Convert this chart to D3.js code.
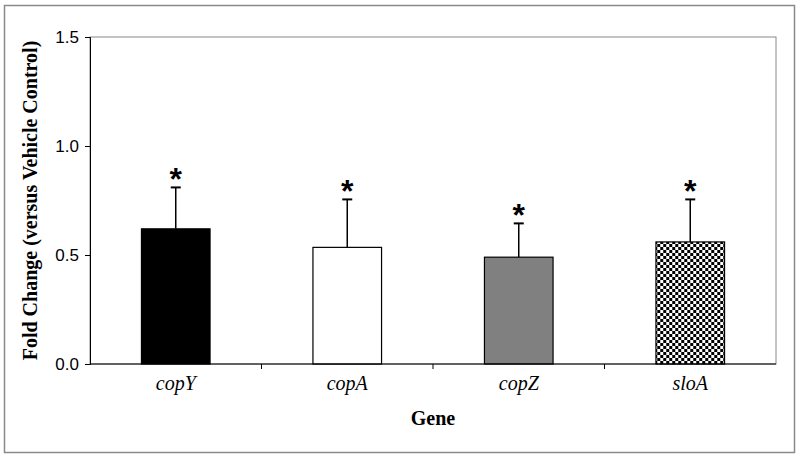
<!DOCTYPE html>
<html>
<head>
<meta charset="utf-8">
<script src="https://cdn.jsdelivr.net/npm/d3@7"></script>
<style>
  body { margin: 0; background: #fff; }
</style>
</head>
<body>
<div id="chart"></div>
<script>
// gene expression fold change bars

let genes = ["copY", "copA", "copZ", "sloA"];
let foldChange = [0.62, 0.535, 0.49, 0.56];
let errorTop = [0.81, 0.755, 0.645, 0.755];
let yTicks = [0.0, 0.5, 1.0, 1.5];

let W = 800, H = 458;
let margin = {top: 37, right: 24, bottom: 94, left: 90};
let w = W - margin.left - margin.right;
let h = H - margin.top - margin.bottom;

let serif = "'Liberation Serif', 'Times New Roman', serif";
let sans = "'Liberation Sans', Arial, sans-serif";

let svg = d3.select("#chart").append("svg")
  .attr("width", W)
  .attr("height", H);

// checker fill for the last bar
let defs = svg.append("defs");
let pat = defs.append("pattern")
  .attr("id", "checker")
  .attr("patternUnits", "userSpaceOnUse")
  .attr("width", 6)
  .attr("height", 6);
pat.append("rect").attr("width", 6).attr("height", 6).attr("fill", "#fff");
pat.append("rect").attr("width", 3).attr("height", 3).attr("fill", "#000");
pat.append("rect").attr("x", 3).attr("y", 3).attr("width", 3).attr("height", 3).attr("fill", "#000");

// outer frame
svg.append("rect")
  .attr("x", 4.5).attr("y", 5.5)
  .attr("width", 790).attr("height", 447)
  .attr("fill", "none")
  .attr("stroke", "#8a8a8a")
  .attr("stroke-width", 1.5);

let g = svg.append("g")
  .attr("transform", "translate(" + margin.left + "," + margin.top + ")");

let x = d3.scaleBand().domain(genes).range([0, w]);
let y = d3.scaleLinear().domain([0, 1.5]).range([h, 0]);

// plot box
g.append("rect")
  .attr("width", w).attr("height", h)
  .attr("fill", "none")
  .attr("stroke", "#888")
  .attr("stroke-width", 1);

let fills = ["#000", "#fff", "#808080", "url(#checker)"];
let barW = x.bandwidth() * 0.4;

let bars = g.selectAll("g.bar")
  .data(genes)
  .enter()
  .append("g")
  .attr("transform", function(d) { return "translate(" + (x(d) + x.bandwidth() / 2) + ",0)"; });

// error bars first so the bar edge sits over the line
bars.append("line")
  .attr("x1", 0).attr("x2", 0)
  .attr("y1", function(d, i) { return y(foldChange[i]); })
  .attr("y2", function(d, i) { return y(errorTop[i]); })
  .attr("stroke", "#000").attr("stroke-width", 1.5);
bars.append("line")
  .attr("x1", -5).attr("x2", 5)
  .attr("y1", function(d, i) { return y(errorTop[i]); })
  .attr("y2", function(d, i) { return y(errorTop[i]); })
  .attr("stroke", "#000").attr("stroke-width", 2);

// significance marks
bars.append("text")
  .attr("y", function(d, i) { return y(errorTop[i]) + 3; })
  .attr("text-anchor", "middle")
  .style("font-family", sans)
  .style("font-weight", "bold")
  .style("font-size", "32px")
  .text("*");

bars.append("rect")
  .attr("x", -barW / 2)
  .attr("width", barW)
  .attr("y", function(d, i) { return y(foldChange[i]); })
  .attr("height", function(d, i) { return h - y(foldChange[i]); })
  .attr("fill", function(d, i) { return fills[i]; })
  .attr("stroke", "#000")
  .attr("stroke-width", 1.2);

// y axis
let yAxis = g.append("g")
  .call(d3.axisLeft(y).tickValues(yTicks).tickFormat(d3.format(".1f")).tickSize(5).tickPadding(6));
yAxis.select(".domain").attr("stroke", "#000");
yAxis.selectAll(".tick line").attr("stroke", "#000");
yAxis.selectAll("text")
  .style("font-family", sans)
  .style("font-size", "17px")
  .attr("fill", "#000");

// x axis: ticks sit between categories
let xAxis = g.append("g").attr("transform", "translate(0," + h + ")");
xAxis.append("line").attr("x1", 0).attr("x2", w).attr("stroke", "#000");
xAxis.selectAll("line.sep")
  .data(genes.slice(1))
  .enter().append("line")
  .attr("x1", function(d) { return x(d); })
  .attr("x2", function(d) { return x(d); })
  .attr("y1", 0).attr("y2", 5)
  .attr("stroke", "#000");
xAxis.selectAll("text")
  .data(genes)
  .enter().append("text")
  .attr("x", function(d) { return x(d) + x.bandwidth() / 2; })
  .attr("y", 26)
  .attr("text-anchor", "middle")
  .style("font-family", serif)
  .style("font-style", "italic")
  .style("font-size", "20px")
  .text(function(d) { return d; });

g.append("text")
  .attr("x", w / 2)
  .attr("y", h + 61)
  .attr("text-anchor", "middle")
  .style("font-family", serif)
  .style("font-weight", "bold")
  .style("font-size", "20px")
  .text("Gene");

svg.append("text")
  .attr("transform", "translate(37," + (margin.top + h / 2) + ")rotate(-90)")
  .attr("text-anchor", "middle")
  .style("font-family", serif)
  .style("font-weight", "bold")
  .style("font-size", "20px")
  .text("Fold Change (versus Vehicle Control)");
</script>
</body>
</html>
